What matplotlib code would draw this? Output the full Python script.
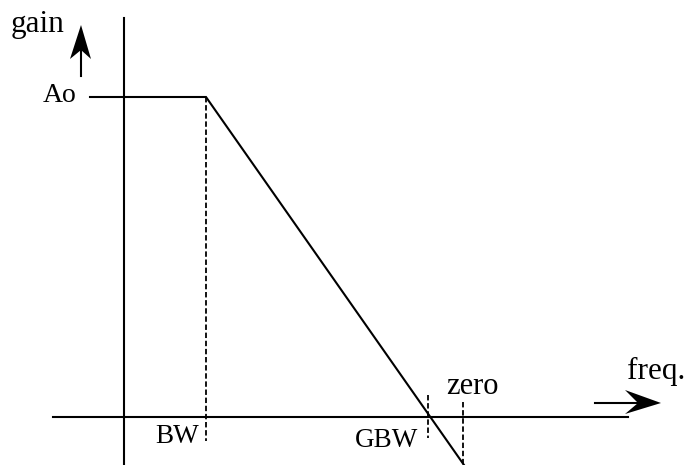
import matplotlib.pyplot as plt
from matplotlib.patches import Polygon

plt.rcParams.update({'font.family': 'Liberation Serif', 'font.size': 20})

# key points of the sketch, in picture units (x to the right, y downwards)
freq_marks = [206, 428, 463]          # BW, GBW, zero
freq_labels = ["BW", "GBW", "zero"]
gain_ao = 97
gain_zero = 417
axis_x = 124
resp_x = [90, 206, 464]
resp_y = [97, 97, 465]

fig = plt.figure(figsize=(6.86, 4.65), dpi=100)
ax = fig.add_axes([0, 0, 1, 1])
ax.set_xlim(0, 686)
ax.set_ylim(465, 0)
ax.axis("off")

lw = 1.5
# axes
ax.plot([axis_x, axis_x], [18, 465], color="black", lw=lw)
ax.plot([53, 628], [gain_zero, gain_zero], color="black", lw=lw)

# response
ax.plot(resp_x, resp_y, color="black", lw=lw, solid_joinstyle="miter")

# dashed markers
dash = (0, (3, 1.5))
ax.plot([freq_marks[0]] * 2, [gain_ao, 441], color="black", lw=1.3, ls=dash)
ax.plot([freq_marks[1]] * 2, [395, 438], color="black", lw=1.3, ls=dash)
ax.plot([freq_marks[2]] * 2, [402, 465], color="black", lw=1.3, ls=dash)

# gain arrow
ax.plot([81, 81], [76, 48], color="black", lw=lw)
ax.add_patch(Polygon([(81, 25), (91, 59), (81, 50), (70, 59)], closed=True,
                     color="black", lw=0))
# freq arrow
ax.plot([595, 642], [403, 403], color="black", lw=lw)
ax.add_patch(Polygon([(661, 403), (625, 390), (638, 403), (625, 414)], closed=True,
                     color="black", lw=0))

# labels
ax.text(11, 32, "gain", ha="left", va="baseline", fontsize=22.5)
ax.text(43, 102, "Ao", ha="left", va="baseline", fontsize=20)
ax.text(627, 379, "freq.", ha="left", va="baseline", fontsize=22.5)
ax.text(155, 443, freq_labels[0], ha="left", va="baseline", fontsize=19.5)
ax.text(355, 447, freq_labels[1], ha="left", va="baseline", fontsize=19.5)
ax.text(446, 394, freq_labels[2], ha="left", va="baseline", fontsize=22)

plt.savefig("out.png", dpi=100)
